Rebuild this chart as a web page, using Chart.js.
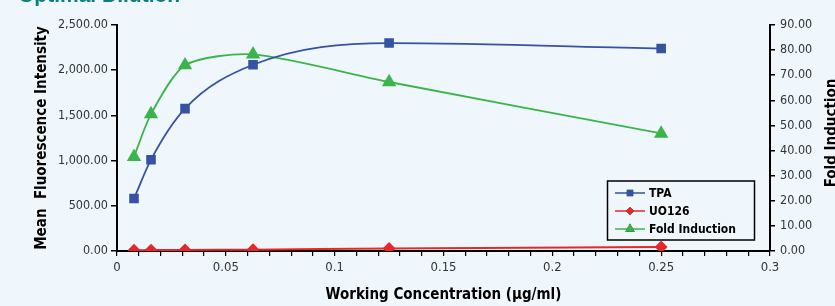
<!DOCTYPE html>
<html>
<head>
<meta charset="utf-8">
<script src="https://cdn.jsdelivr.net/npm/chart.js@4.4.1/dist/chart.umd.min.js"></script>
<style>
  html, body { margin: 0; padding: 0; background: #eff7fd; }
  #wrap { position: relative; width: 835px; height: 306px; overflow: hidden; }
</style>
</head>
<body>
<div id="wrap"><canvas id="mycanvas" width="835" height="306"></canvas></div>
<script>
// working concentration (ug/ml), serial 2-fold dilution
var conc = [0.0078125, 0.015625, 0.03125, 0.0625, 0.125, 0.25];
var tpa = [580, 1010, 1575, 2060, 2300, 2240];
var uo126 = [8, 10, 12, 15, 28, 45];
var foldInduction = [37.5, 54.5, 74, 78.3, 67.3, 46.8];

var leftTicks = [0, 500, 1000, 1500, 2000, 2500];
var rightTicks = [0, 10, 20, 30, 40, 50, 60, 70, 80, 90];

var narrow = "'DejaVu Sans Condensed', 'Liberation Sans Narrow', sans-serif";

function pts(ys) {
	return ys.map(function(y, i) { return {x: conc[i], y: y}; });
}

function fmt2(v) {
	return v.toLocaleString('en-US', {minimumFractionDigits: 2, maximumFractionDigits: 2});
}

// title (cut off at top), right axis title, legend box
var extras = {
	id: 'extras',
	afterDraw: function(chart) {
		var ctx = chart.ctx;
		ctx.save();
		ctx.fillStyle = '#0b7f80';
		ctx.font = "bold 21px 'Liberation Sans', Arial, sans-serif";
		ctx.textBaseline = 'alphabetic';
		ctx.fillText('Optimal Dilution', 18, 2);

		ctx.fillStyle = '#000';
		ctx.font = 'bold 15px ' + narrow;
		ctx.translate(832, 133);
		ctx.rotate(-Math.PI / 2);
		ctx.textAlign = 'center';
		ctx.textBaseline = 'middle';
		ctx.fillText('Fold Induction', 0, 0);
		ctx.restore();

		// legend
		ctx.save();
		ctx.strokeStyle = '#000';
		ctx.lineWidth = 1.5;
		ctx.strokeRect(607.5, 181, 147, 59);
		var rows = [193, 211, 229];
		chart.data.datasets.forEach(function(ds, i) {
			var y = rows[i];
			ctx.strokeStyle = ds.borderColor;
			ctx.lineWidth = 1.5;
			ctx.beginPath();
			ctx.moveTo(615, y);
			ctx.lineTo(645, y);
			ctx.stroke();
			Chart.helpers.drawPoint(ctx, {pointStyle: ds.pointStyle, radius: ds.pointRadius - 1, borderWidth: 0}, 630, y);
			ctx.fillStyle = ds.backgroundColor;
			ctx.fill();
			ctx.fillStyle = '#000';
			ctx.font = 'bold 12px ' + narrow;
			ctx.textBaseline = 'middle';
			ctx.fillText(ds.label, 649, y + 1);
		});
		ctx.restore();
	}
};

var ctx = document.getElementById('mycanvas');

var chart = new Chart(ctx, {
	type: 'line',
	data: {
		datasets: [
			{
				label: 'TPA',
				data: pts(tpa),
				yAxisID: 'y',
				borderColor: '#3552a3',
				backgroundColor: '#3552a3',
				borderWidth: 1.8,
				pointStyle: 'rect',
				pointRadius: 5.5,
				cubicInterpolationMode: 'monotone'
			},
			{
				label: 'UO126',
				data: pts(uo126),
				yAxisID: 'y',
				borderColor: '#e8262b',
				backgroundColor: '#e8262b',
				borderWidth: 2,
				pointStyle: 'rectRot',
				pointRadius: 5,
				tension: 0.3
			},
			{
				label: 'Fold Induction',
				data: pts(foldInduction),
				yAxisID: 'y1',
				borderColor: '#3bb54a',
				backgroundColor: '#3bb54a',
				borderWidth: 1.8,
				pointStyle: 'triangle',
				pointRadius: 6.5,
				tension: 0.25
			}
		]
	},
	options: {
		responsive: false,
		animation: false,
		layout: { padding: { top: 25 } },
		plugins: { legend: { display: false }, tooltip: { enabled: false } },
		scales: {
			x: {
				type: 'linear',
				min: 0,
				max: 0.3,
				border: { color: '#000', width: 2 },
				grid: { drawOnChartArea: false, color: '#000', tickLength: 5, lineWidth: 1.2 },
				ticks: {
					stepSize: 0.01,
					autoSkip: false,
					maxRotation: 0,
					padding: 4,
					color: '#333',
					font: { family: narrow, size: 13 },
					callback: function(v) {
						var k = v * 20;
						if (Math.abs(k - Math.round(k)) > 1e-6) return '';
						return String(Math.round(v * 100) / 100);
					}
				},
				title: {
					display: true,
					text: 'Working Concentration (\u03bcg/ml)',
					color: '#000',
					font: { family: narrow, size: 15, weight: 'bold' },
					padding: { top: 0, bottom: 2 }
				},
				afterFit: function(s) { s.height = 55; }
			},
			y: {
				position: 'left',
				min: 0,
				max: 2500,
				border: { color: '#000', width: 2 },
				grid: { drawOnChartArea: false, color: '#000', tickLength: 6, lineWidth: 1.5 },
				afterBuildTicks: function(s) { s.ticks = leftTicks.map(function(v) { return {value: v}; }); },
				ticks: {
					padding: 3,
					color: '#333',
					font: { family: narrow, size: 12.5 },
					callback: function(v) { return fmt2(v); }
				},
				title: {
					display: true,
					text: 'Mean  Fluorescence Intensity',
					color: '#000',
					font: { family: narrow, size: 15, weight: 'bold' },
					padding: { top: 33, bottom: 0 }
				},
				afterFit: function(s) { s.width = 117; }
			},
			y1: {
				position: 'right',
				min: 0,
				max: 90,
				border: { color: '#000', width: 2 },
				grid: { drawOnChartArea: false, color: '#000', tickLength: 5, lineWidth: 1.5 },
				afterBuildTicks: function(s) { s.ticks = rightTicks.map(function(v) { return {value: v}; }); },
				ticks: {
					padding: 5,
					color: '#333',
					font: { family: narrow, size: 12.5 },
					callback: function(v) { return fmt2(v); }
				},
				afterFit: function(s) { s.width = 65; }
			}
		}
	},
	plugins: [extras]
});
</script>
</body>
</html>
